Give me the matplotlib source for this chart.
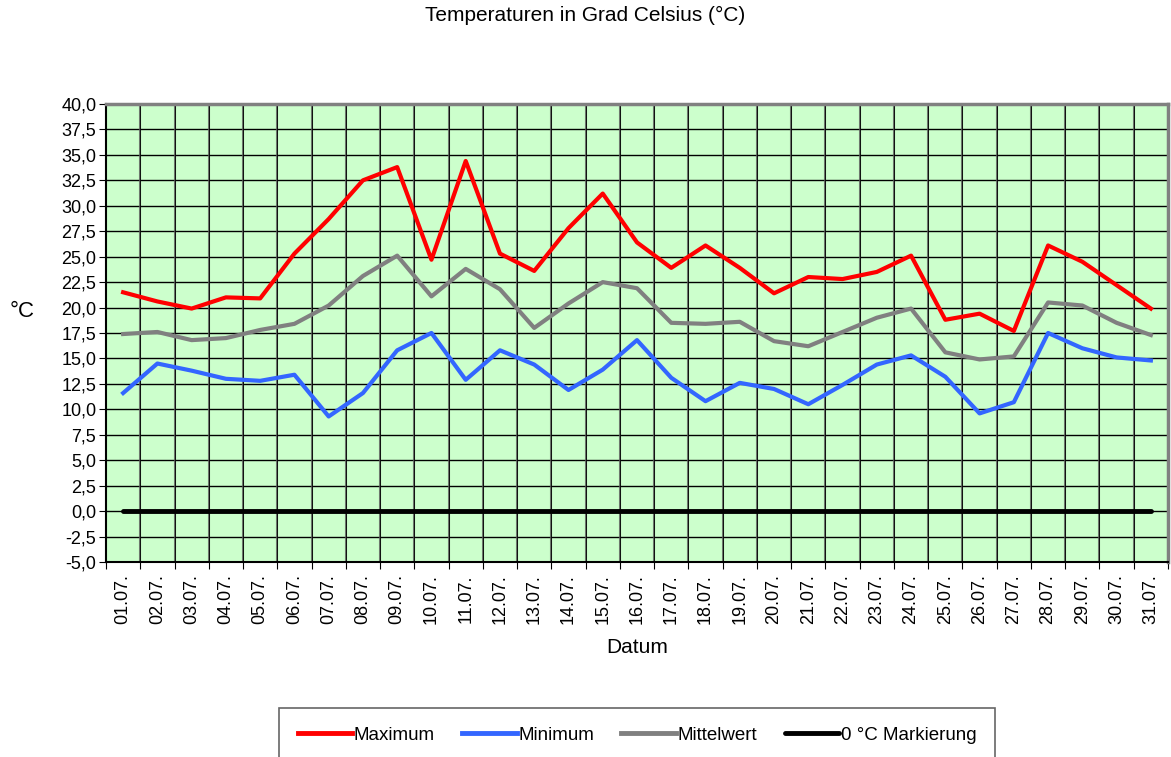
import numpy as np
import matplotlib.pyplot as plt
from matplotlib.ticker import FixedLocator, NullFormatter

plt.rcParams['font.family'] = ['Liberation Sans', 'DejaVu Sans']

# tageswerte juli
days = ['%02d.07.' % d for d in range(1, 32)]
t_max = [21.5, 20.6, 19.9, 21.0, 20.9, 25.3, 28.7, 32.5, 33.8, 24.7,
         34.4, 25.3, 23.6, 27.8, 31.2, 26.4, 23.9, 26.1, 23.9, 21.4,
         23.0, 22.8, 23.5, 25.1, 18.8, 19.4, 17.7, 26.1, 24.5, 22.2, 19.9]
t_min = [11.6, 14.5, 13.8, 13.0, 12.8, 13.4, 9.3, 11.6, 15.8, 17.5,
         12.9, 15.8, 14.4, 11.9, 13.9, 16.8, 13.1, 10.8, 12.6, 12.0,
         10.5, 12.4, 14.4, 15.3, 13.2, 9.6, 10.7, 17.5, 16.0, 15.1, 14.8]
t_mean = [17.4, 17.6, 16.8, 17.0, 17.8, 18.4, 20.2, 23.1, 25.1, 21.1,
          23.8, 21.8, 18.0, 20.4, 22.5, 21.9, 18.5, 18.4, 18.6, 16.7,
          16.2, 17.6, 19.0, 19.9, 15.6, 14.9, 15.2, 20.5, 20.2, 18.5, 17.3]
zero_mark = [0.0] * 31

x = np.arange(len(days))

fig = plt.figure(figsize=(11.71, 7.57), dpi=100)
ax = fig.add_axes([106/1171, 1 - 562/757, 1062/1171, 458/757])
ax.set_facecolor('#CCFFCC')

ax.plot(x, t_max, color='#FF0000', lw=3, label='Maximum', zorder=3)
ax.plot(x, t_min, color='#3366FF', lw=3, label='Minimum', zorder=3)
ax.plot(x, t_mean, color='#808080', lw=3, label='Mittelwert', zorder=3)
ax.plot(x, zero_mark, color='black', lw=3.5, label='0 °C Markierung', zorder=3,
        solid_capstyle='round')

ax.set_xlim(-0.5, len(days) - 0.5)
ax.set_ylim(-5, 40)

# ticks an kategoriegrenzen, labels in der mitte
ax.xaxis.set_major_locator(FixedLocator(np.arange(-0.5, len(days), 1.0)))
ax.xaxis.set_major_formatter(NullFormatter())
ax.xaxis.set_minor_locator(FixedLocator(x))
ax.set_xticklabels(days, minor=True, rotation=90, fontsize=13)
ax.tick_params(axis='x', which='minor', length=0, pad=9)
ax.tick_params(axis='x', which='major', length=5, color='black')

yt = np.arange(-5, 40.1, 2.5)
ax.set_yticks(yt)
ax.set_yticklabels([('%.1f' % v).replace('.', ',') for v in yt], fontsize=13)
ax.tick_params(axis='y', length=5, pad=2)

for v in yt:
    ax.axhline(v, color='black', lw=1.0, zorder=1)
for b in np.arange(0.5, len(days) - 1, 1.0):
    ax.axvline(b, color='#555555', lw=1.5, alpha=0.8, zorder=1)
    ax.axvline(b, color='black', lw=0.6, zorder=1)

ax.spines['left'].set_color('black')
ax.spines['bottom'].set_color('black')
ax.spines['top'].set_color('#808080')
ax.spines['right'].set_color('#808080')
ax.spines['top'].set_linewidth(2.5)
ax.spines['right'].set_linewidth(2.5)
ax.spines['left'].set_linewidth(1.5)
ax.spines['bottom'].set_linewidth(1.5)

ax.set_xlabel('Datum', fontsize=15, labelpad=10)
ax.set_ylabel('°C', fontsize=16, rotation=0, va='center', ha='center')
ax.yaxis.set_label_coords(-0.079, 0.546)

fig.text(0.5, 1 - 15/757, 'Temperaturen in Grad Celsius (°C)', ha='center', va='center',
         fontsize=15)

leg = fig.legend(loc='upper center', bbox_to_anchor=(637/1171, 1 - 708/757), ncol=4,
                 fontsize=13.5, frameon=True, fancybox=False, edgecolor='#404040',
                 handlelength=2.9, handletextpad=0.1, columnspacing=1.45, borderpad=1.0,
                 borderaxespad=0)
leg.get_frame().set_linewidth(1.2)
for h in leg.get_lines():
    h.set_linewidth(3.5)

fig.savefig('out.png', dpi=100)
